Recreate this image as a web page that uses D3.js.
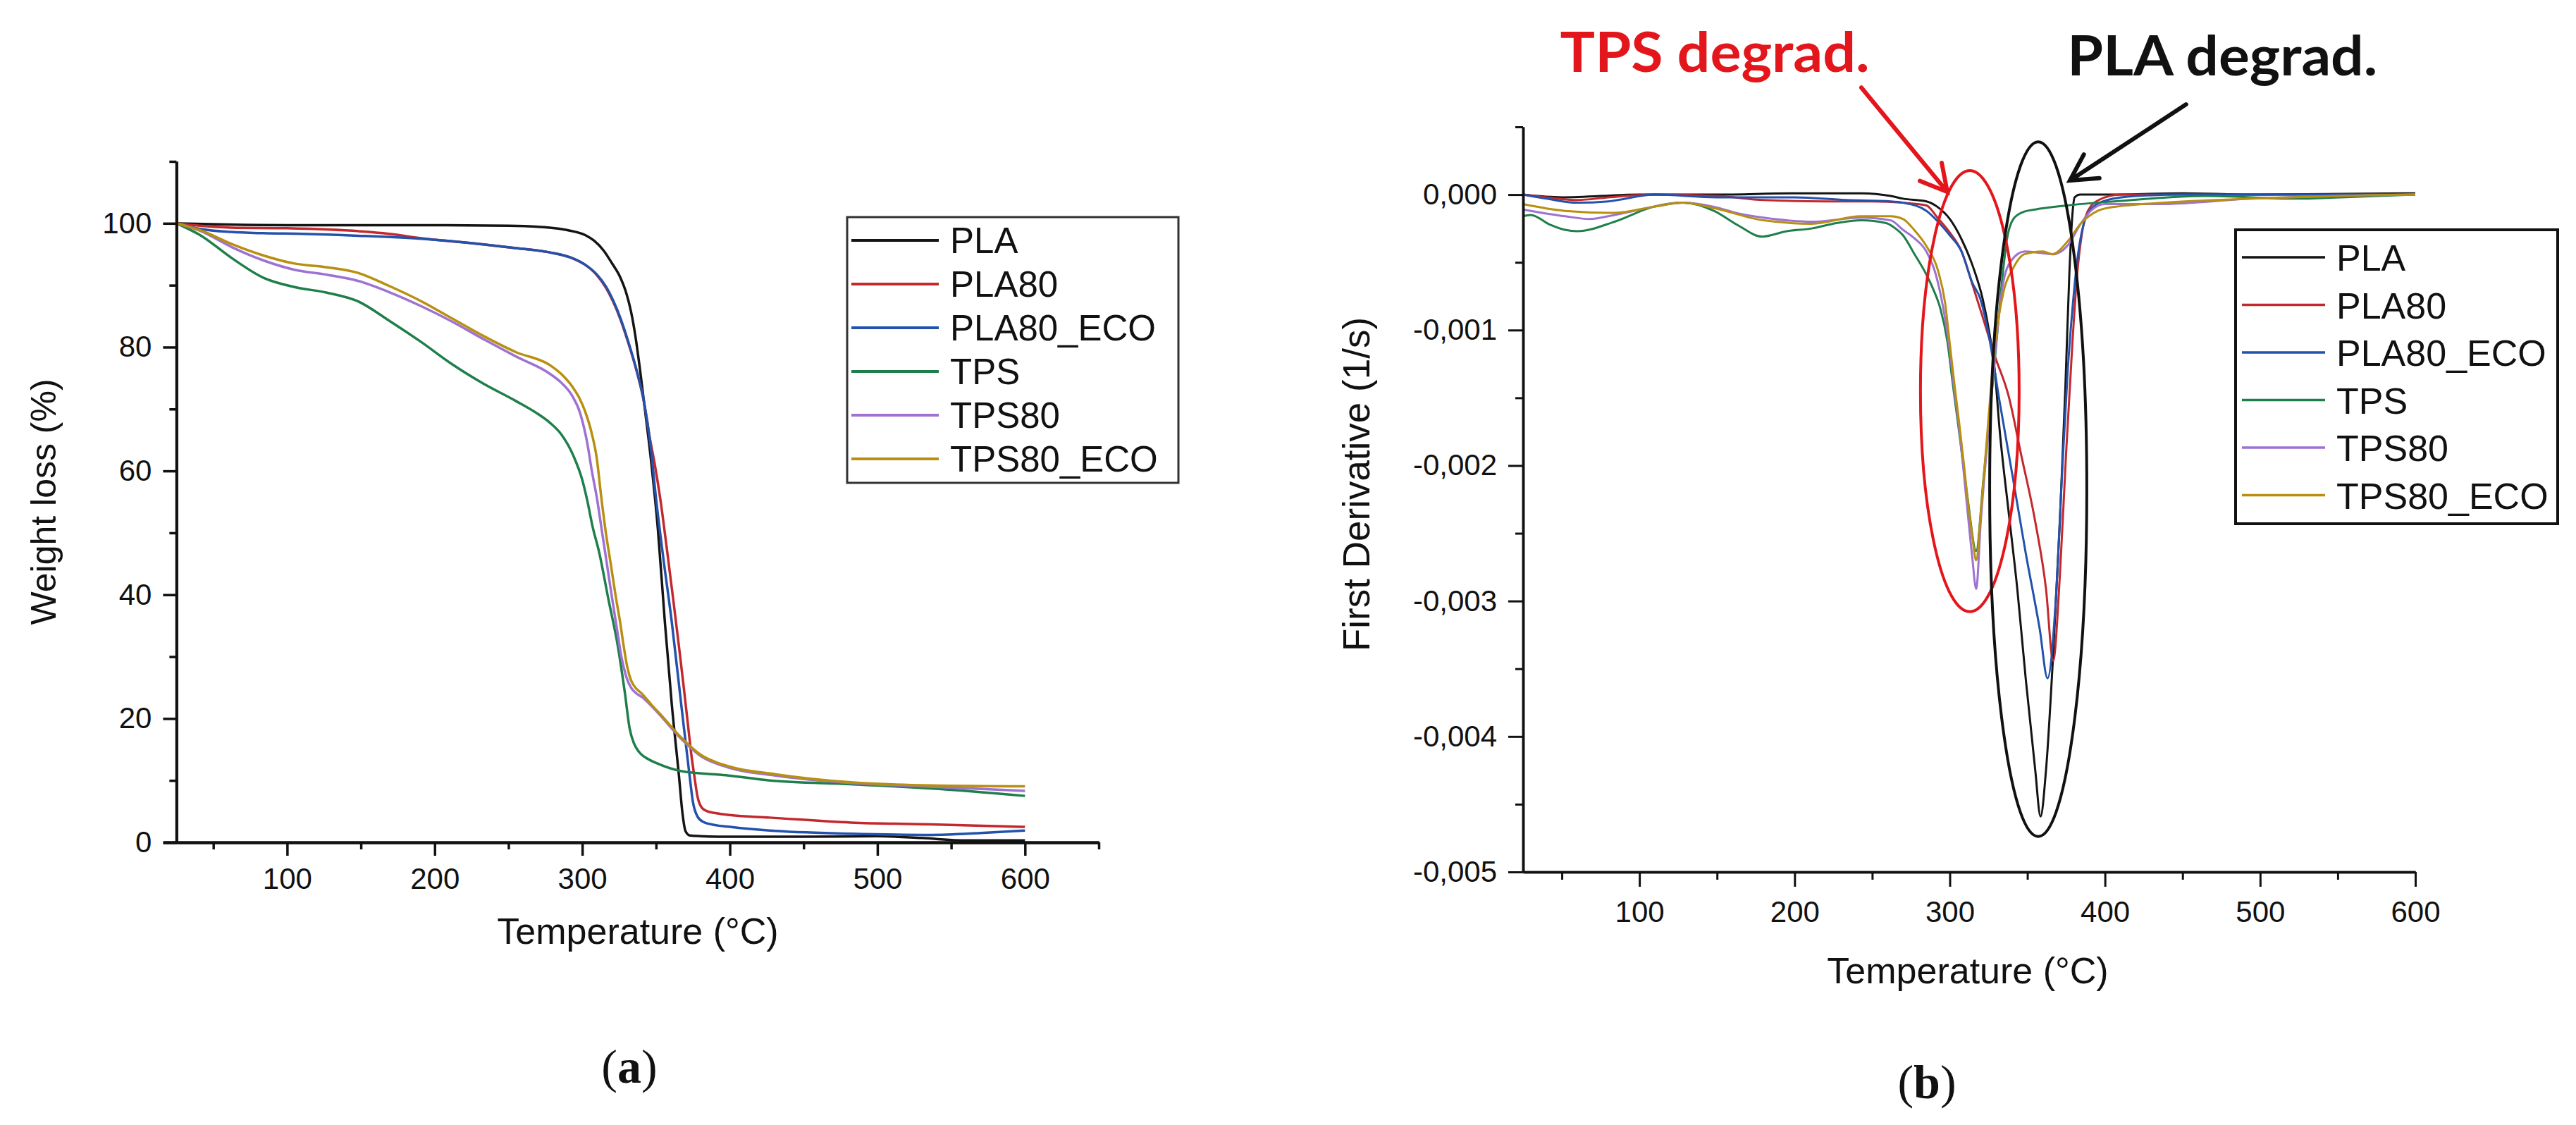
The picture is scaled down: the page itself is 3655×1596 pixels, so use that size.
<!DOCTYPE html>
<html>
<head>
<meta charset="utf-8">
<script src="https://cdnjs.cloudflare.com/ajax/libs/d3/7.8.5/d3.min.js"></script>
<style>
    body { margin: 0; background: #fff; }
    text { font-family: "Liberation Sans", Arial, sans-serif; fill: #111; }
</style>
</head>
<body>
<script>

//SERIES NAMES AND COLOURS (same order in both panels)
var seriesNames = ["PLA", "PLA80", "PLA80_ECO", "TPS", "TPS80", "TPS80_ECO"];
var seriesColors = ["#141414", "#c3282d", "#2352ad", "#1f7f4b", "#9d72d3", "#b88f10"];

//PANEL (a): TGA curves, [temperature °C, weight %]
var tgaPLA = [[25,100],[60,99.8],[100,99.7],[150,99.7],[200,99.7],[250,99.6],[278,99.3],[290,98.9],[302,98.1],[308,97.2],[314.5,95.6],[320,93.6],[325.7,91.3],[330,88.6],[333,85.8],[336,81.8],[339,76.6],[342,70.8],[346.4,62.1],[351.2,50.7],[356,35.5],[360.7,22.2],[365.5,10.8],[368,4.5],[370,1.8],[373,1.1],[380,1.0],[400,0.9],[450,0.9],[500,1.0],[530,0.7],[560,0.3],[600,0.3]];
var tgaPLA80 = [[25,100],[41,99.6],[62,99.3],[100,99.2],[127,99.0],[150,98.7],[169,98.3],[191,97.6],[233,96.6],[255,96.0],[278,95.3],[294,94.3],[302,93.3],[310,91.6],[316,89.6],[321,87.3],[326,84.4],[330.5,81.2],[337,76],[341.6,71.4],[346,65],[348.8,61.5],[352.8,55.6],[357.6,46.9],[361.5,39.5],[365.5,31.7],[368.8,25],[371.9,18.4],[374,14],[375.9,10.8],[378,7.5],[381,5.6],[385,5.0],[391,4.7],[400,4.4],[427,4.0],[482,3.2],[536,2.9],[600,2.5]];
var tgaPLA80_ECO = [[25,100],[41,99.1],[62,98.6],[84,98.4],[110,98.3],[148,98.0],[191,97.5],[233,96.6],[255,96.0],[278,95.3],[294,94.3],[302,93.3],[310,91.7],[316,89.8],[321,87.5],[326,84.6],[330.5,81.4],[337,76.1],[341.6,71.5],[346.4,63.9],[349.6,56.4],[354.4,46.9],[360.7,35.5],[367.1,22.2],[372.7,10.8],[375,6.5],[378,4.2],[382,3.3],[390,2.8],[400,2.5],[427,1.9],[482,1.4],[536,1.2],[570,1.5],[600,1.9]];
var tgaTPS = [[25,100],[41,98.1],[63,94.3],[84,91.2],[105,89.7],[127,88.8],[148,87.4],[169,84.3],[191,80.8],[212,77.2],[233,74.1],[255,71.3],[270,69.2],[278,67.8],[285.8,65.9],[293.9,62.5],[300.3,58.3],[303.4,55.2],[307,51],[311.4,46.9],[317.7,39.3],[324.1,31.7],[328.9,24.1],[332.1,18.4],[335,16],[338.5,14.6],[345,13.4],[351.2,12.7],[367.1,11.5],[399,10.8],[427,10.0],[482,9.4],[536,8.7],[600,7.5]];
var tgaTPS80 = [[25,100],[41,98.8],[63,96.1],[84,94.0],[105,92.5],[127,91.7],[148,90.7],[169,88.9],[191,86.6],[212,84.1],[233,81.3],[255,78.5],[278,75.7],[286,74.2],[293,72.2],[298.6,69.3],[303.4,64.5],[306.5,60],[310,55.5],[313.5,50],[317,44.5],[320.5,39],[323.5,34.5],[326.5,30],[329.5,27],[333,25],[337,24],[341,23.4],[347,22],[354.4,20.1],[367.1,16.7],[379.9,14.0],[399,12.1],[430.9,10.8],[482,9.6],[536,9.0],[600,8.3]];
var tgaTPS80_ECO = [[25,100],[41,98.9],[63,96.6],[84,94.8],[105,93.5],[127,92.9],[148,92.0],[169,89.9],[191,87.4],[212,84.6],[233,81.8],[255,79.2],[278,77.1],[286,75.6],[293.9,73.4],[298,71.8],[301.8,69.7],[306.6,65.9],[309.8,62.1],[313,55.5],[316,50],[319.3,45],[322.5,40],[325.7,35.5],[328.2,31.5],[330.5,28.3],[333,26.2],[336,25],[340.1,24.1],[347,22.2],[354.4,20.3],[367.1,16.9],[379.9,14.2],[399,12.3],[430.9,11.0],[482,9.7],[536,9.2],[600,9.05]];
var tgaSeries = [tgaPLA, tgaPLA80, tgaPLA80_ECO, tgaTPS, tgaTPS80, tgaTPS80_ECO];

//PANEL (b): DTG curves, [temperature °C, first derivative 1/s]
var dtgPLA = [[25,0],[50,-0.00002],[100,0],[150,0],[200,0.00001],[243,0.00001],[262,-0.00001],[270,-0.00003],[285,-0.00005],[292,-0.00009],[300,-0.00018],[307.6,-0.00033],[315.2,-0.00054],[321.2,-0.00077],[325.8,-0.00104],[329,-0.0013],[332,-0.00172],[338,-0.00235],[343.5,-0.00291],[349,-0.00358],[355,-0.00424],[358.5,-0.00459],[362,-0.00425],[366.6,-0.0034],[371,-0.0024],[374.5,-0.00142],[377,-0.0006],[379,-0.00015],[380.5,-0.00002],[384,0],[400,0],[450,0.00001],[500,0],[600,0.00001]];
var dtgPLA80 = [[25,0],[40,-0.00002],[60,-0.00004],[80,-0.00002],[110,0],[150,-0.00001],[180,-0.00004],[220,-0.00005],[250,-0.00005],[270,-0.00006],[285,-0.00008],[292,-0.00017],[300,-0.00028],[307.6,-0.00042],[314.5,-0.00066],[320,-0.00086],[329,-0.00119],[338,-0.00149],[346,-0.00192],[355,-0.00241],[362,-0.00291],[366.6,-0.00344],[371,-0.0028],[375,-0.0019],[379,-0.0011],[382,-0.0006],[385,-0.0003],[389,-0.00012],[396,-0.00004],[410,0],[450,0],[500,0],[600,0]];
var dtgPLA80_ECO = [[25,0],[40,-0.00003],[60,-0.00006],[80,-0.00005],[110,0],[150,-0.00002],[200,-0.00002],[233,-0.00004],[262,-0.00005],[270,-0.00006],[285,-0.00012],[292.4,-0.0002],[300,-0.0003],[307.6,-0.00042],[314.5,-0.00065],[319.7,-0.00077],[325.8,-0.00108],[332,-0.00152],[340.5,-0.00208],[349,-0.00265],[358,-0.00321],[363,-0.00357],[368,-0.00305],[372.4,-0.00205],[376,-0.0013],[379,-0.00085],[382,-0.0005],[386.5,-0.00021],[392.5,-0.00009],[401.6,-0.00004],[420,-0.00001],[450,0],[500,0],[600,0]];
var dtgTPS = [[25,-0.00016],[30,-0.00015],[42,-0.00022],[52,-0.00026],[60,-0.00027],[84,-0.0002],[109,-0.00009],[128,-0.00006],[148,-0.00012],[164,-0.00023],[179,-0.00031],[195,-0.00027],[211,-0.00025],[227,-0.00021],[243,-0.00019],[259,-0.00021],[265,-0.00025],[269.8,-0.0003],[277.3,-0.00044],[284.9,-0.00059],[289.4,-0.0007],[293.9,-0.00084],[298.4,-0.00108],[302.2,-0.00142],[306,-0.00175],[311.6,-0.00225],[317,-0.00263],[321.7,-0.0021],[326,-0.0016],[330,-0.0011],[334,-0.0006],[337,-0.00032],[341,-0.00018],[347,-0.00013],[355,-0.00011],[375.6,-0.00008],[406,-0.00005],[465,-0.00001],[523,-0.00003],[552,-0.00002],[600,0]];
var dtgTPS80 = [[25,-0.00011],[52,-0.00016],[68,-0.00018],[84,-0.00015],[109,-0.00009],[128,-0.00006],[148,-0.00009],[164,-0.00014],[180,-0.00017],[211,-0.0002],[243,-0.00017],[262,-0.00019],[269.8,-0.00026],[277,-0.00032],[284.9,-0.00042],[291,-0.00059],[296,-0.00085],[300,-0.00115],[303,-0.00145],[306,-0.00172],[309,-0.00205],[312,-0.0024],[314.5,-0.00268],[317,-0.00291],[320,-0.00241],[324.6,-0.00178],[329,-0.0012],[334,-0.00068],[339.4,-0.00049],[348.3,-0.00042],[358,-0.00043],[366.4,-0.00044],[375.6,-0.00038],[384.7,-0.00021],[390.8,-0.00012],[400,-0.00007],[436,-0.00007],[494,-0.00003],[600,0]];
var dtgTPS80_ECO = [[25,-0.00007],[52,-0.00012],[84,-0.000135],[109,-0.00009],[128,-0.00006],[148,-0.0001],[180,-0.00019],[211,-0.000215],[243,-0.00016],[262,-0.00016],[269.8,-0.00018],[277,-0.00026],[284.9,-0.00038],[292.4,-0.00056],[297,-0.0008],[300,-0.0011],[303,-0.0014],[306,-0.00168],[309,-0.00198],[312,-0.0023],[314.5,-0.00252],[317,-0.0027],[320,-0.00235],[324.6,-0.0017],[329,-0.00112],[335,-0.0007],[340.5,-0.00055],[348,-0.00044],[360,-0.00042],[366,-0.00044],[375.6,-0.00035],[384.7,-0.00021],[395.3,-0.00012],[406,-0.00009],[494,-0.00003],[600,0]];
var dtgSeries = [dtgPLA, dtgPLA80, dtgPLA80_ECO, dtgTPS, dtgTPS80, dtgTPS80_ECO];

//TICKS
var tempTicks = [100, 200, 300, 400, 500, 600];
var tempMinorA = [50, 150, 250, 350, 450, 550, 650];
var tempMinorB = [50, 150, 250, 350, 450, 550];
var weightTicks = [0, 20, 40, 60, 80, 100];
var weightMinor = [10, 30, 50, 70, 90, 110];
var derivTicks = [0, -0.001, -0.002, -0.003, -0.004, -0.005];
var derivMinor = [0.0005, -0.0005, -0.0015, -0.0025, -0.0035, -0.0045];

//ANNOTATION TEXT
var annotTexts = ["TPS degrad.", "PLA degrad."];


//Set up the svg
var w = 3655;
var h = 1596;

var svg = d3.select("body").append("svg")
    .attr("width", w)
    .attr("height", h)
    .style("background", "#fff");

var commaFormat = d3.formatLocale({decimal: ",", thousands: ".", grouping: [3], currency: ["", ""], minus: "-"}).format(".3f");


//Helper to style an axis group
function styleAxis(g, width, fontSize) {
    g.select(".domain").attr("stroke", "#111").attr("stroke-width", width);
    g.selectAll(".tick line").attr("stroke", "#111").attr("stroke-width", width - 0.5);
    g.selectAll(".tick text")
        .style("font-size", fontSize + "px")
        .style("fill", "#111")
        .attr("font-family", "Liberation Sans, Arial, sans-serif");
}


/////PANEL (a)

var xA = d3.scaleLinear().domain([16, 650]).range([231.5, 1559]);
var yA = d3.scaleLinear().domain([0, 110]).range([1195, 229]);

var panelA = svg.append("g").classed("panelA", true);

//curves
var lineA = d3.line()
    .x(function(d) { return xA(d[0]); })
    .y(function(d) { return yA(d[1]); })
    .curve(d3.curveMonotoneX);

panelA.selectAll(".tga")
    .data(tgaSeries)
    .enter()
        .append("path")
        .classed("tga", true)
        .attr("fill", "none")
        .attr("stroke", function(d, i) { return seriesColors[i]; })
        .attr("stroke-width", 3.5)
        .attr("stroke-linejoin", "round")
        .attr("d", lineA);

//axes (minor first, then major with labels)
panelA.append("g")
    .attr("transform", "translate(0," + yA(0) + ")")
    .call(d3.axisBottom(xA).tickValues(tempMinorA).tickSize(10).tickSizeOuter(0).tickFormat(""))
    .call(styleAxis, 4, 42);

panelA.append("g")
    .attr("transform", "translate(0," + yA(0) + ")")
    .call(d3.axisBottom(xA).tickValues(tempTicks).tickSize(19).tickSizeOuter(0).tickPadding(17))
    .call(styleAxis, 4, 42);

panelA.append("g")
    .attr("transform", "translate(" + xA(25) + ",0)")
    .call(d3.axisLeft(yA).tickValues(weightMinor).tickSize(10).tickSizeOuter(0).tickFormat(""))
    .call(styleAxis, 4, 42);

panelA.append("g")
    .attr("transform", "translate(" + xA(25) + ",0)")
    .call(d3.axisLeft(yA).tickValues(weightTicks).tickSize(19).tickSizeOuter(0).tickPadding(16))
    .call(styleAxis, 4, 42);

//axis titles
panelA.append("text")
    .attr("transform", "translate(79," + yA(55) + ") rotate(-90)")
    .style("text-anchor", "middle")
    .style("font-size", "50px")
    .text("Weight loss (%)");

panelA.append("text")
    .attr("x", 905)
    .attr("y", 1339)
    .style("text-anchor", "middle")
    .style("font-size", "52px")
    .text("Temperature (°C)");

//legend
var legendA = panelA.append("g").attr("transform", "translate(1202,308)");
legendA.append("rect")
    .attr("width", 470)
    .attr("height", 377)
    .attr("fill", "#fff")
    .attr("stroke", "#333")
    .attr("stroke-width", 3);

seriesNames.forEach(function(name, i) {
    var rowY = 33 + i * 62;
    legendA.append("line")
        .attr("x1", 6).attr("x2", 130)
        .attr("y1", rowY).attr("y2", rowY)
        .attr("stroke", seriesColors[i])
        .attr("stroke-width", 4);
    legendA.append("text")
        .attr("x", 146)
        .attr("y", rowY + 18)
        .style("font-size", "51px")
        .text(name);
});

//panel caption
var capA = svg.append("text")
    .attr("x", 893)
    .attr("y", 1536)
    .style("text-anchor", "middle")
    .style("font-size", "68px")
    .style("font-family", "Liberation Serif, serif");
capA.append("tspan").text("(");
capA.append("tspan").style("font-weight", "bold").text("a");
capA.append("tspan").text(")");


/////PANEL (b)

var xB = d3.scaleLinear().domain([25, 600]).range([2161, 3427]);
var yB = d3.scaleLinear().domain([-0.005, 0.0005]).range([1237, 180]);

var panelB = svg.append("g").classed("panelB", true);

var lineB = d3.line()
    .x(function(d) { return xB(d[0]); })
    .y(function(d) { return yB(d[1]); })
    .curve(d3.curveMonotoneX);

panelB.selectAll(".dtg")
    .data(dtgSeries)
    .enter()
        .append("path")
        .classed("dtg", true)
        .attr("fill", "none")
        .attr("stroke", function(d, i) { return seriesColors[i]; })
        .attr("stroke-width", 3)
        .attr("stroke-linejoin", "round")
        .attr("d", lineB);

panelB.append("g")
    .attr("transform", "translate(0," + yB(-0.005) + ")")
    .call(d3.axisBottom(xB).tickValues(tempMinorB).tickSize(11).tickSizeOuter(0).tickFormat(""))
    .call(styleAxis, 3.5, 42);

panelB.append("g")
    .attr("transform", "translate(0," + yB(-0.005) + ")")
    .call(d3.axisBottom(xB).tickValues(tempTicks).tickSize(21).tickSizeOuter(0).tickPadding(20))
    .call(styleAxis, 3.5, 42);

panelB.append("g")
    .attr("transform", "translate(" + xB(25) + ",0)")
    .call(d3.axisLeft(yB).tickValues(derivMinor).tickSize(11).tickSizeOuter(0).tickFormat(""))
    .call(styleAxis, 3.5, 42);

panelB.append("g")
    .attr("transform", "translate(" + xB(25) + ",0)")
    .call(d3.axisLeft(yB).tickValues(derivTicks).tickSize(21).tickSizeOuter(0).tickPadding(16).tickFormat(commaFormat))
    .call(styleAxis, 3.5, 42);

panelB.append("text")
    .attr("transform", "translate(1943,687) rotate(-90)")
    .style("text-anchor", "middle")
    .style("font-size", "53px")
    .text("First Derivative (1/s)");

panelB.append("text")
    .attr("x", 2792)
    .attr("y", 1395)
    .style("text-anchor", "middle")
    .style("font-size", "52px")
    .text("Temperature (°C)");

//ellipses marking the two degradation steps (centre and radii in data units)
var rings = [
    {t: 312.9, d: -0.001451, rt: 31.8, rd: 0.001628, color: "#e3161b"},
    {t: 357.0, d: -0.002174, rt: 31.3, rd: 0.002564, color: "#111"}
];
panelB.selectAll(".ring")
    .data(rings)
    .enter()
        .append("ellipse")
        .classed("ring", true)
        .attr("cx", function(d) { return xB(d.t); })
        .attr("cy", function(d) { return yB(d.d); })
        .attr("rx", function(d) { return xB(d.t + d.rt) - xB(d.t); })
        .attr("ry", function(d) { return yB(d.d - d.rd) - yB(d.d); })
        .attr("fill", "none")
        .attr("stroke", function(d) { return d.color; })
        .attr("stroke-width", 4);

//arrows and their labels
var arrows = [
    {t0: 243, d0: 0.00079, t1: 298.4, d1: 0.00002, color: "#e3161b", lt: 148.6, ld: 0.000905, len: 439},
    {t0: 452.3, d0: 0.000666, t1: 377.4, d1: 0.000104, color: "#111", lt: 475.7, ld: 0.00088, len: 440}
];
arrows.forEach(function(a, i) {
    var x0 = xB(a.t0), y0 = yB(a.d0), x1 = xB(a.t1), y1 = yB(a.d1);
    var ang = Math.atan2(y1 - y0, x1 - x0);
    var hl = 42, spread = 0.5;
    var hx1 = x1 - hl * Math.cos(ang - spread), hy1 = y1 - hl * Math.sin(ang - spread);
    var hx2 = x1 - hl * Math.cos(ang + spread), hy2 = y1 - hl * Math.sin(ang + spread);
    panelB.append("path")
        .attr("d", "M" + x0 + "," + y0 + "L" + x1 + "," + y1 +
                   "M" + hx1 + "," + hy1 + "L" + x1 + "," + y1 + "L" + hx2 + "," + hy2)
        .attr("fill", "none")
        .attr("stroke", a.color)
        .attr("stroke-width", 6)
        .attr("stroke-linecap", "round")
        .attr("stroke-linejoin", "miter");
    panelB.append("text")
        .attr("x", xB(a.lt))
        .attr("y", yB(a.ld))
        .attr("textLength", a.len)
        .attr("lengthAdjust", "spacingAndGlyphs")
        .style("text-anchor", "middle")
        .style("font-family", "Lato, 'Open Sans', sans-serif")
        .style("font-weight", "bold")
        .style("font-size", "78px")
        .style("fill", a.color)
        .text(annotTexts[i]);
});

//legend
var legendB = panelB.append("g").attr("transform", "translate(3172,326)");
legendB.append("rect")
    .attr("width", 457)
    .attr("height", 417)
    .attr("fill", "#fff")
    .attr("stroke", "#111")
    .attr("stroke-width", 4);

seriesNames.forEach(function(name, i) {
    var rowY = 39 + i * 67.5;
    legendB.append("line")
        .attr("x1", 9).attr("x2", 127)
        .attr("y1", rowY).attr("y2", rowY)
        .attr("stroke", seriesColors[i])
        .attr("stroke-width", 3.5);
    legendB.append("text")
        .attr("x", 143)
        .attr("y", rowY + 19)
        .style("font-size", "52px")
        .text(name);
});

var capB = svg.append("text")
    .attr("x", 2734)
    .attr("y", 1558)
    .style("text-anchor", "middle")
    .style("font-size", "68px")
    .style("font-family", "Liberation Serif, serif");
capB.append("tspan").text("(");
capB.append("tspan").style("font-weight", "bold").text("b");
capB.append("tspan").text(")");

</script>
</body>
</html>
